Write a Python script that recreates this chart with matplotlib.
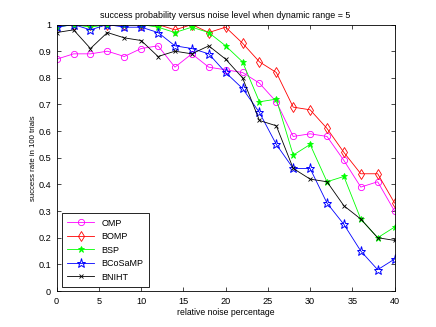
import numpy as np
import matplotlib
matplotlib.use('Agg')
import matplotlib.pyplot as plt

plt.rcParams['font.family'] = 'Liberation Sans'
plt.rcParams['font.size'] = 6

# --- DATA ---
noise = np.arange(0, 41, 2)
omp = [0.87, 0.89, 0.89, 0.90, 0.88, 0.91, 0.92, 0.84, 0.89, 0.84, 0.83,
       0.82, 0.78, 0.71, 0.58, 0.59, 0.58, 0.49, 0.39, 0.41, 0.30]
bomp = [1.0, 1.0, 1.0, 1.0, 1.0, 1.0, 1.0, 0.98, 1.0, 0.97, 0.99,
        0.93, 0.86, 0.82, 0.69, 0.68, 0.61, 0.52, 0.44, 0.44, 0.33]
bsp = [0.99, 1.0, 0.99, 1.0, 1.0, 1.0, 0.99, 0.97, 0.99, 0.97, 0.92,
       0.86, 0.71, 0.72, 0.51, 0.55, 0.41, 0.43, 0.27, 0.20, 0.24]
bcosamp = [0.99, 1.0, 0.98, 1.0, 0.99, 0.99, 0.97, 0.92, 0.91, 0.89, 0.82,
           0.76, 0.67, 0.55, 0.46, 0.46, 0.33, 0.25, 0.15, 0.08, 0.12]
bniht = [0.97, 0.98, 0.91, 0.97, 0.95, 0.94, 0.88, 0.90, 0.89, 0.92, 0.87,
         0.80, 0.64, 0.62, 0.46, 0.42, 0.41, 0.32, 0.27, 0.20, 0.19]

fig = plt.figure(figsize=(4.36, 3.27), dpi=100)
ax = fig.add_axes([0.13, 0.11, 0.775, 0.815])

lw = 0.6
ax.plot(noise, omp, color='#ff00ff', marker='o', mfc='none', ms=4.5, lw=lw, mew=0.6, label='OMP')
ax.plot(noise, bomp, color='#ff0000', marker='d', mfc='none', ms=5, lw=lw, mew=0.6, label='BOMP')
ax.plot(noise, bsp, color='#00ff00', marker='*', ms=4.5, lw=lw, mew=0.6, label='BSP')
ax.plot(noise, bcosamp, color='#0000ff', marker='*', mfc='none', ms=6.5, lw=lw, mew=0.7, label='BCoSaMP')
ax.plot(noise, bniht, color='black', marker='x', ms=3.5, lw=lw, mew=0.6, label='BNIHT')

ax.set_xlim(0, 40)
ax.set_ylim(0, 1)
ax.set_xticks(np.arange(0, 41, 5))
ax.set_yticks(np.arange(0, 1.01, 0.1))
ax.set_yticklabels(['0', '0.1', '0.2', '0.3', '0.4', '0.5', '0.6', '0.7', '0.8', '0.9', '1'])
ax.tick_params(direction='in', top=True, right=True, length=3, width=0.5, pad=4, labelsize=6.6)
for s in ax.spines.values():
    s.set_linewidth(0.6)

ax.set_xlabel('relative noise percentage', fontsize=6.2, labelpad=2)
ax.set_ylabel('success rate in 100 trials', fontsize=5.6, labelpad=1)
ax.set_title('success probability versus noise level when dynamic range = 5', fontsize=6.4, pad=5)

leg = ax.legend(loc='lower left', bbox_to_anchor=(0.015, 0.015), fancybox=False,
                edgecolor='black', framealpha=1, borderaxespad=0, fontsize=6.5,
                handlelength=3, labelspacing=0.5, borderpad=0.6)
leg.get_frame().set_linewidth(0.6)

fig.savefig('out.png', dpi=100)
